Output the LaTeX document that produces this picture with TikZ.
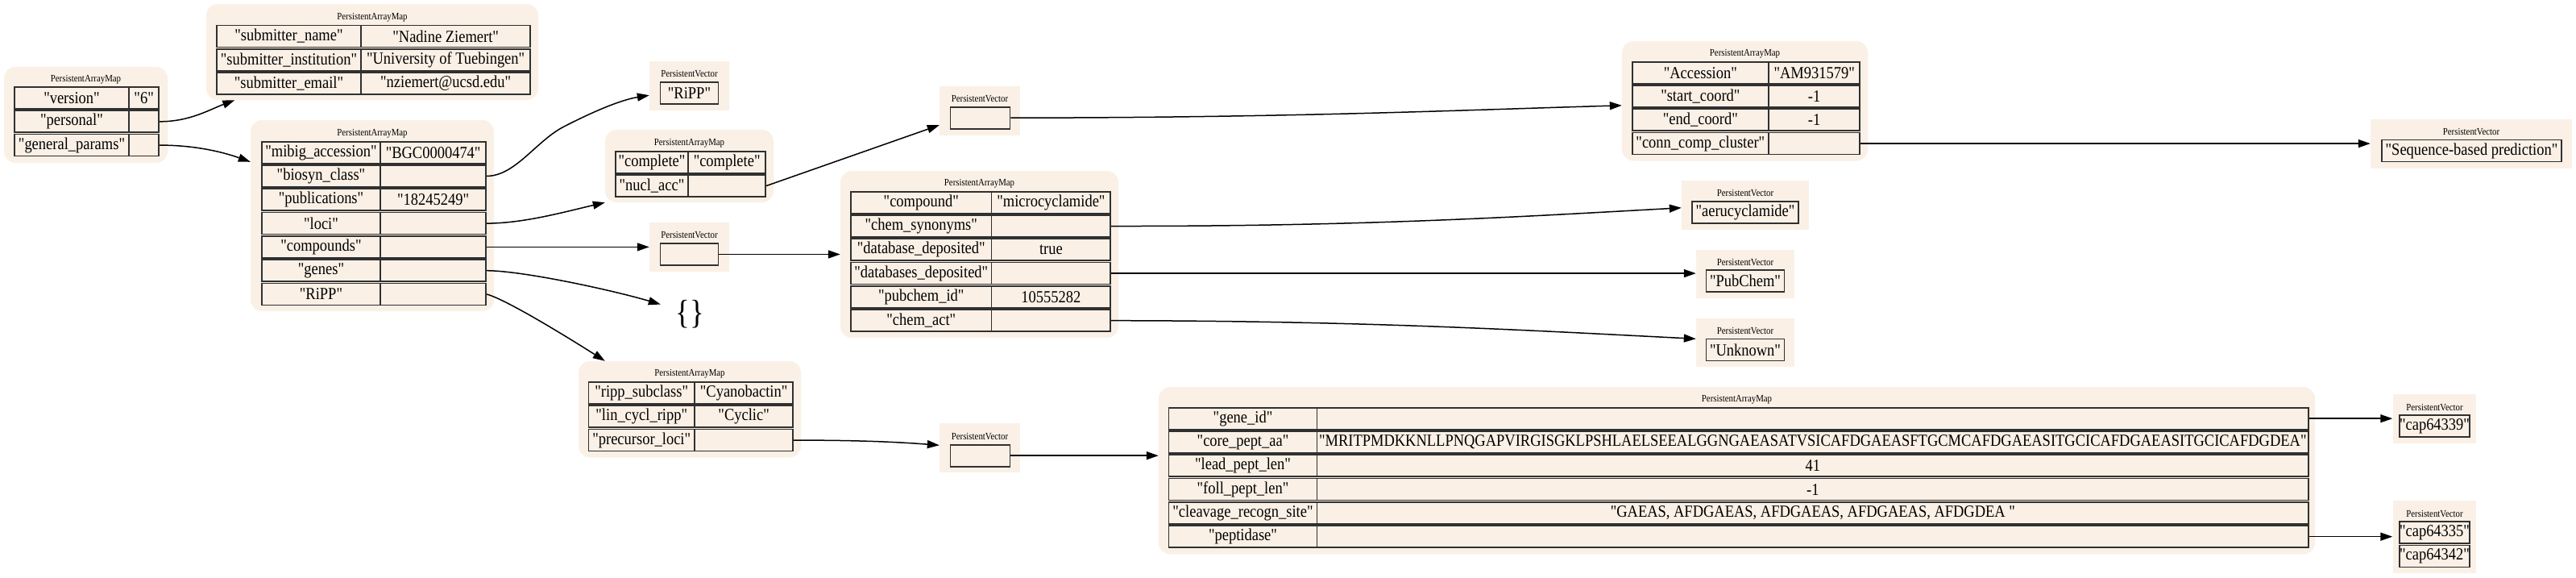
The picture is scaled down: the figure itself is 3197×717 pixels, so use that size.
\documentclass[tikz,border=0pt]{standalone}
\usepackage{fontspec}
\newfontfamily\gvfont{Liberation Serif}[FakeStretch=0.88]
\usetikzlibrary{arrows.meta,fit,calc}
\definecolor{linen}{HTML}{FAF0E6}
\definecolor{cellline}{HTML}{303030}
\tikzset{
  cell/.style={draw=cellline, line width=1.7pt, fill=linen, inner sep=0pt, font=\gvfont\fontsize{21}{24}\selectfont},
  mapbg/.style={fill=linen, rounded corners=14pt, inner sep=0pt},
  vecbg/.style={fill=linen, inner sep=0pt},
  ttl/.style={font=\gvfont\fontsize{12.3}{14}\selectfont, inner sep=0pt},
  edge/.style={line width=1.5pt, -{Triangle[length=15pt,width=10pt]}},
}
\newcommand\cel[6]{%
  \node[cell, minimum width={(#4-#2)*1pt}, minimum height={(#5-#3)*1pt}] (#1) at ({(#2+#4)/2},{(#3+#5)/2}) {#6};}
\newcommand\kvrow[7]{%
  \cel{#1k}{#2}{#5}{#3}{#5+27}{#6}%
  \cel{#1v}{#3+2.3}{#5}{#4}{#5+27}{#7}}
\begin{document}
\begin{tikzpicture}[x=1pt,y=-1pt]
\useasboundingbox (0,0) rectangle (3197,717);
% A root
\node[mapbg, fit={(5,83) (208,202)}] (A) {};
\node[ttl] (Attl) at (106.5,98.5) {PersistentArrayMap};
\kvrow{Aver}{18}{160}{195}{108}{"version"}{"6"}
\kvrow{Aper}{18}{160}{195}{137.3}{"personal"}{}
\kvrow{Agen}{18}{160}{195}{166.6}{"general\_params"}{}
% B personal
\node[mapbg, fit={(256,5) (668,124)}] (B) {};
\node[ttl] (Bttl) at (462,21.5) {PersistentArrayMap};
\kvrow{Bnam}{269}{448}{656}{31.5}{"submitter\_name"}{"Nadine Ziemert"}
\kvrow{Bins}{269}{448}{656}{60.8}{"submitter\_institution"}{"University of Tuebingen"}
\kvrow{Bmai}{269}{448}{656}{90.1}{"submitter\_email"}{"nziemert@ucsd.edu"}
% C general params
\node[mapbg, fit={(311,149) (613,386)}] (C) {};
\node[ttl] (Cttl) at (462,166) {PersistentArrayMap};
\kvrow{Cmib}{325}{472}{601}{175.7}{"mibig\_accession"}{"BGC0000474"}
\kvrow{Cbio}{325}{472}{601}{205}{"biosyn\_class"}{}
\kvrow{Cpub}{325}{472}{601}{234.3}{"publications"}{"18245249"}
\kvrow{Cloc}{325}{472}{601}{263.6}{"loci"}{}
\kvrow{Ccmp}{325}{472}{601}{292.9}{"compounds"}{}
\kvrow{Cgen}{325}{472}{601}{322.2}{"genes"}{}
\kvrow{Crip}{325}{472}{601}{351.5}{"RiPP"}{}
% D vector RiPP
\node[vecbg, fit={(806,76) (905,137)}] (D) {};
\node[ttl] (Dttl) at (855.5,91.5) {PersistentVector};
\cel{Dc}{819.5}{102.3}{891.5}{129.3}{"RiPP"}
% E loci
\node[mapbg, fit={(751,161) (960,251)}] (E) {};
\node[ttl] (Ettl) at (855.5,178) {PersistentArrayMap};
\kvrow{Ecom}{764}{854}{948}{187.7}{"complete"}{"complete"}
\kvrow{Enuc}{764}{854}{948}{217}{"nucl\_acc"}{}
% F compounds vector
\node[vecbg, fit={(806,276) (905,337)}] (F) {};
\node[ttl] (Fttl) at (855.5,291.5) {PersistentVector};
\cel{Fc}{819.5}{302}{891.5}{329}{}
% braces
\node[inner sep=0pt, minimum width=72pt, minimum height=40pt, font=\gvfont\fontsize{42}{44}\selectfont] (Br) at (856,390) {\{\}};
% G ripp
\node[mapbg, fit={(718,448) (994,567.5)}] (G) {};
\node[ttl] (Gttl) at (856,463.5) {PersistentArrayMap};
\kvrow{Gsub}{730.5}{862}{982}{474}{"ripp\_subclass"}{"Cyanobactin"}
\kvrow{Glin}{730.5}{862}{982}{503.3}{"lin\_cycl\_ripp"}{"Cyclic"}
\kvrow{Gpre}{730.5}{862}{982}{532.6}{"precursor\_loci"}{}
% H nucl_acc vector
\node[vecbg, fit={(1166,107) (1266,168)}] (H) {};
\node[ttl] (Httl) at (1216,122.5) {PersistentVector};
\cel{Hc}{1179.5}{132.7}{1253.5}{159.7}{}
% I compound
\node[mapbg, fit={(1043,212) (1388,419)}] (I) {};
\node[ttl] (Ittl) at (1215.5,228) {PersistentArrayMap};
\kvrow{Icpd}{1056}{1230.5}{1376}{237.7}{"compound"}{"microcyclamide"}
\kvrow{Isyn}{1056}{1230.5}{1376}{267}{"chem\_synonyms"}{}
\kvrow{Idb}{1056}{1230.5}{1376}{296.3}{"database\_deposited"}{true}
\kvrow{Idbs}{1056}{1230.5}{1376}{325.6}{"databases\_deposited"}{}
\kvrow{Ipub}{1056}{1230.5}{1376}{354.9}{"pubchem\_id"}{10555282}
\kvrow{Iact}{1056}{1230.5}{1376}{384.2}{"chem\_act"}{}
% J accession
\node[mapbg, fit={(2013,51) (2318,199.5)}] (J) {};
\node[ttl] (Jttl) at (2165.5,67) {PersistentArrayMap};
\kvrow{Jacc}{2025.7}{2195}{2306}{76.7}{"Accession"}{"AM931579"}
\kvrow{Jsta}{2025.7}{2195}{2306}{106}{"start\_coord"}{-1}
\kvrow{Jend}{2025.7}{2195}{2306}{135.3}{"end\_coord"}{-1}
\kvrow{Jcon}{2025.7}{2195}{2306}{164.6}{"conn\_comp\_cluster"}{}
% K
\node[vecbg, fit={(2942,148) (3192,209)}] (K) {};
\node[ttl] (Kttl) at (3067,163.5) {PersistentVector};
\cel{Kc}{2956}{173.5}{3179}{200.5}{"Sequence-based prediction"}
% L
\node[vecbg, fit={(2087,224) (2245,285)}] (L) {};
\node[ttl] (Lttl) at (2166,240) {PersistentVector};
\cel{Lc}{2100}{250}{2232}{277.3}{"aerucyclamide"}
% M
\node[vecbg, fit={(2105,309.5) (2227,370)}] (M) {};
\node[ttl] (Mttl) at (2166,325.5) {PersistentVector};
\cel{Mc}{2117.5}{335}{2214.5}{362}{"PubChem"}
% N
\node[vecbg, fit={(2105,394.5) (2227,455)}] (N) {};
\node[ttl] (Nttl) at (2166,410.5) {PersistentVector};
\cel{Nc}{2117.5}{420.5}{2214.5}{447.5}{"Unknown"}
% O
\node[vecbg, fit={(1166,525) (1266,586)}] (O) {};
\node[ttl] (Ottl) at (1216,541.5) {PersistentVector};
\cel{Oc}{1179.5}{551.7}{1253.5}{578.7}{}
% P gene map
\node[mapbg, fit={(1438,480) (2873,687.5)}] (P) {};
\node[ttl] (Pttl) at (2155.5,496) {PersistentArrayMap};
\kvrow{Pgid}{1450.5}{1634.5}{2863}{505.7}{"gene\_id"}{}
\kvrow{Pcor}{1450.5}{1634.5}{2863}{535}{"core\_pept\_aa"}{"MRITPMDKKNLLPNQGAPVIRGISGKLPSHLAELSEEALGGNGAEASATVSICAFDGAEASFTGCMCAFDGAEASITGCICAFDGAEASITGCICAFDGDEA"}
\kvrow{Plea}{1450.5}{1634.5}{2863}{564.3}{"lead\_pept\_len"}{41}
\kvrow{Pfol}{1450.5}{1634.5}{2863}{593.6}{"foll\_pept\_len"}{-1}
\kvrow{Pcle}{1450.5}{1634.5}{2863}{622.9}{"cleavage\_recogn\_site"}{"GAEAS, AFDGAEAS, AFDGAEAS, AFDGAEAS, AFDGDEA "}
\kvrow{Ppep}{1450.5}{1634.5}{2863}{652.2}{"peptidase"}{}
% Q
\node[vecbg, fit={(2969.5,489) (3073,550)}] (Q) {};
\node[ttl] (Qttl) at (3021.5,505.5) {PersistentVector};
\cel{Qc}{2981}{515}{3062}{542}{"cap64339"}
% R
\node[vecbg, fit={(2969.5,621) (3073,711)}] (R) {};
\node[ttl] (Rttl) at (3021.5,637.5) {PersistentVector};
\cel{Rc1}{2981}{647.3}{3062}{674.3}{"cap64335"}
\cel{Rc2}{2981}{676.6}{3062}{703.6}{"cap64342"}
% edges
\draw[edge] (Aperv.east) .. controls (235,151) and (260,136) .. ($(B.south west)+(35.5,0)$);
\draw[edge] (Agenv.east) .. controls (240,180) and (275,188) .. ($(C.north west)+(0,52)$);
\draw[edge] (Cbiov.east) .. controls (640,218) and (665,175) .. (700,157) .. controls (735,139) and (770,124) .. ($(D.south west)+(0,-19)$);
\draw[edge] (Clocv.east) .. controls (650,277) and (700,263) .. (E.south west);
\draw[edge] (Ccmpv.east) -- (Ccmpv.east -| F.west);
\draw[edge] (Cgenv.east) .. controls (650,336) and (760,360) .. (Br.161);
\draw[edge] (Cripv.east) .. controls (630,372) and (715,425) .. ($(G.north west)+(33,0)$);
\draw[edge] (Fc.east) -- (Fc.east -| I.west);
\draw[edge] (Enucv.east) -- ($(H.south west)+(0,-13)$);
\draw[edge] (Hc.east) .. controls (1600,146) and (1800,137) .. ($(J.north west)+(0,80)$);
\draw[edge] (Jconv.east) -- (Jconv.east -| K.west);
\draw[edge] (Isynv.east) .. controls (1700,281) and (1900,268) .. ($(L.north west)+(0,34)$);
\draw[edge] (Idbsv.east) -- (Idbsv.east -| M.west);
\draw[edge] (Iactv.east) .. controls (1700,398) and (1900,410) .. ($(N.north west)+(0,26)$);
\draw[edge] (Gprev.east) .. controls (1060,546) and (1110,548) .. ($(O.north west)+(0,27.5)$);
\draw[edge] (Oc.east) -- (Oc.east -| P.west);
\draw[edge] (Pgidv.east) -- (Pgidv.east -| Q.west);
\draw[edge] (Ppepv.east) -- (Ppepv.east -| R.west);
\end{tikzpicture}
\end{document}
